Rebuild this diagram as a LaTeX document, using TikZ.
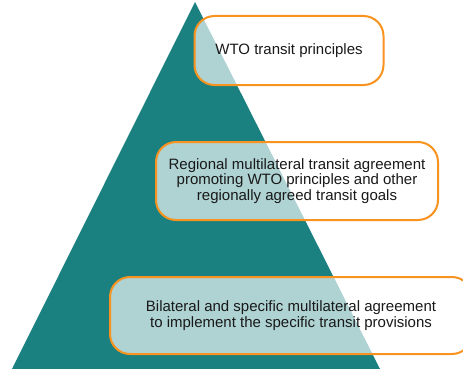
\documentclass[tikz,border=0pt]{standalone}
\usepackage{fontspec}
\setmainfont{Liberation Sans}
\usepackage{tikz}
\usetikzlibrary{positioning,calc}
\definecolor{PyramidTeal}{HTML}{1B8080}
\definecolor{TierOrange}{HTML}{F7931E}
\tikzset{
  tier/.style={draw=TierOrange,line width=2pt,rounded corners=20pt,fill=white,fill opacity=0.65,
    text opacity=1,text=black!90,align=center,font=\fontsize{15}{15.5}\selectfont,inner sep=0pt}
}
\begin{document}
\begin{tikzpicture}[x=1pt,y=-1pt]
  \useasboundingbox (0,0) rectangle (463,369);
  \clip (0,0) rectangle (463,369);
  \fill[PyramidTeal] (195,2) coordinate (apex) -- (12,369) coordinate (bl) -- (380,369) coordinate (br) -- cycle;
  \node[tier,minimum width=189pt,minimum height=69pt] (wto) at (289,50.5){WTO transit principles};
  \node[tier,minimum width=282pt,minimum height=78pt] (regional) at (297,181)
    {Regional multilateral transit agreement\\promoting WTO principles and other\\regionally agreed transit goals};
  \node[tier,minimum width=362pt,minimum height=77pt] (bilateral) at (291,315.5)
    {Bilateral and specific multilateral agreement\\to implement the specific transit provisions};
\end{tikzpicture}
\end{document}
